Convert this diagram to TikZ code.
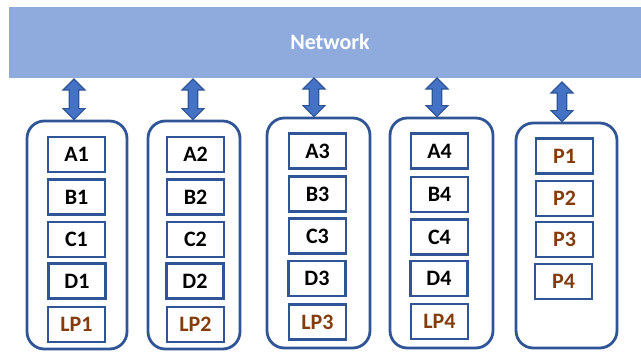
\documentclass[tikz,border=0pt]{standalone}
\usepackage{fontspec}
\setmainfont{Carlito}
\usetikzlibrary{calc,fit}
\definecolor{netblue}{HTML}{8FAADC}
\definecolor{boxline}{HTML}{2F5597}
\definecolor{arrfill}{HTML}{4472C4}
\definecolor{lpbrown}{HTML}{843C0C}
\tikzset{
  net/.style={fill=netblue, draw=none, inner sep=0pt},
  cont/.style={draw=boxline, line width=2.1pt, rounded corners=13pt, fill=white, inner sep=0pt},
  item/.style={draw=boxline, line width=2.1pt, fill=white, minimum width=42.75pt, minimum height=26.25pt,
    inner sep=0pt, font=\fontsize{16.5}{18}\selectfont\bfseries},
  lp/.style={item, text=lpbrown},
  barr/.style={fill=arrfill, draw=boxline, line width=0.9pt, line join=miter}
}
\newcommand\blockarrow[2]{%
  \draw[barr] let \p1=(#1), \p2=(#2) in
    (\x1,\y1) -- (\x1+8.25pt,\y1-8.25pt) -- (\x1+3.6pt,\y1-8.25pt) -- (\x1+3.6pt,\y2+8.25pt)
    -- (\x1+8.25pt,\y2+8.25pt) -- (\x1,\y2) -- (\x1-8.25pt,\y2+8.25pt) -- (\x1-3.6pt,\y2+8.25pt)
    -- (\x1-3.6pt,\y1-8.25pt) -- (\x1-8.25pt,\y1-8.25pt) -- cycle;}
\begin{document}
\begin{tikzpicture}[x=0.75pt,y=-0.75pt]
\useasboundingbox (0,0) rectangle (641,351);
\clip (0,0) rectangle (641,351);
\node[net, fit={(9,7) (641,78)}] (net) {};
\node[text=white, font=\fontsize{16.5}{18}\selectfont\bfseries] (nettxt) at (330,42) {Network};

% containers
\node[cont, fit={(27,121) (127,349)}] (c1) {};
\node[cont, fit={(148,121) (240,349)}] (c2) {};
\node[cont, fit={(267,118) (370,348)}] (c3) {};
\node[cont, fit={(390,118) (493,348)}] (c4) {};
\node[cont, fit={(516,123) (617,348)}] (c5) {};

% column 1
\node[item] (a1) at (76.5,154.5) {A1};
\node[item] (b1) at (76.5,197) {B1};
\node[item] (cc1) at (76.5,239.5) {C1};
\node[item] (d1) at (77,281) {D1};
\node[lp] (lp1) at (76.5,324.5) {LP1};
% column 2
\node[item] (a2) at (195.5,154.5) {A2};
\node[item] (b2) at (195.5,197) {B2};
\node[item] (cc2) at (195.5,239.5) {C2};
\node[item] (d2) at (195,281) {D2};
\node[lp] (lp2) at (195.5,324.5) {LP2};
% column 3
\node[item] (a3) at (317.5,151) {A3};
\node[item] (b3) at (317.5,194) {B3};
\node[item] (cc3) at (317.5,236) {C3};
\node[item] (d3) at (317,278.5) {D3};
\node[lp] (lp3) at (317.5,322) {LP3};
% column 4
\node[item] (a4) at (439.5,151) {A4};
\node[item] (b4) at (439.5,194.5) {B4};
\node[item] (cc4) at (439.5,237) {C4};
\node[item] (d4) at (439,278.5) {D4};
\node[lp] (lp4) at (439.5,321.5) {LP4};
% column 5
\node[lp] (p1) at (564.5,156) {P1};
\node[lp] (p2) at (564.5,198.5) {P2};
\node[lp] (p3) at (564.5,239.5) {P3};
\node[lp] (p4) at (563.5,281.5) {P4};

% arrows
\coordinate (t1) at (74,79);
\coordinate (t2) at (193,79);
\coordinate (t3) at (314,78);
\coordinate (t4) at (437,78);
\coordinate (t5) at (562,82);
\blockarrow{t1}{t1 |- c1.north}
\blockarrow{t2}{t2 |- c2.north}
\blockarrow{t3}{t3 |- c3.north}
\blockarrow{t4}{t4 |- c4.north}
\blockarrow{t5}{t5 |- c5.north}
\end{tikzpicture}
\end{document}
